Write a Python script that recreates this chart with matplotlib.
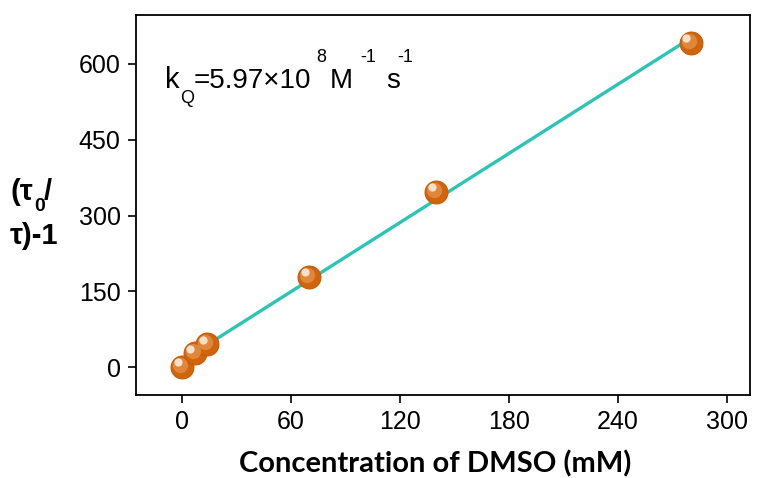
import numpy as np
import matplotlib
matplotlib.use('Agg')
import matplotlib.pyplot as plt

# datos
conc = [0, 7, 14, 70, 140, 280]          # mM
tau_ratio = [0, 27, 45, 179, 347, 642]   # (tau0/tau)-1
x_ticks = [0, 60, 120, 180, 240, 300]
y_ticks = [0, 150, 300, 450, 600]

plt.rcParams['font.family'] = ['Liberation Sans', 'DejaVu Sans']

W, H = 761, 478
fig = plt.figure(figsize=(W / 100, H / 100), dpi=100)
ax = fig.add_axes([136 / W, 1 - 395 / H, 614 / W, 380 / H])

# recta de ajuste
p = np.polyfit(conc, tau_ratio, 1)
xf = np.array([conc[0], conc[-1]])
ax.plot(xf, np.polyval(p, xf), color='#2CC4B4', lw=2.4, zorder=2)

# esferas (sombra + brillo)
ax.scatter(conc, tau_ratio, s=270, color='#D2650C', edgecolor='#C45A06', lw=0.8, zorder=3)
ax.scatter(np.array(conc) - 1.2, np.array(tau_ratio) + 4, s=120, color='#E3924A', lw=0, zorder=4, alpha=0.8)
ax.scatter(np.array(conc) - 2.4, np.array(tau_ratio) + 9, s=35, color='#F8E0C8', lw=0, zorder=5)

ax.set_xlim(-25.3, 312.6)
ax.set_ylim(-55.4, 697)
ax.set_xticks(x_ticks)
ax.set_yticks(y_ticks)
ax.tick_params(direction='out', length=6, width=1.2, labelsize=18, pad=5, top=False, right=False)
for s in ax.spines.values():
    s.set_linewidth(1.3)

# etiqueta eje x
fig.text(435 / W, 1 - 472 / H, 'Concentration of DMSO (mM)', fontsize=21, fontweight='bold',
         family=['Lato', 'DejaVu Sans'], ha='center', va='baseline')


def txt(px, py, s, size, bold=False):
    fig.text(px / W, 1 - py / H, s, fontsize=size, ha='left', va='baseline',
             fontweight='bold' if bold else 'normal')


# etiqueta eje y: (τ0/ τ)-1
txt(10, 200, '(τ', 21, True)
txt(34, 211, '0', 14, True)
txt(44, 200, '/', 21, True)
txt(10, 244, 'τ)-1', 21, True)

# anotacion kQ
txt(165, 88, 'k', 21)
txt(180, 103, 'Q', 13)
txt(194, 88, '=5.97×10', 20)
txt(316, 62, '8', 13)
txt(330, 88, 'M', 20)
txt(360, 62, '-1', 13)
txt(386, 88, 's', 20)
txt(397, 62, '-1', 13)

fig.savefig('out.png', dpi=100)
